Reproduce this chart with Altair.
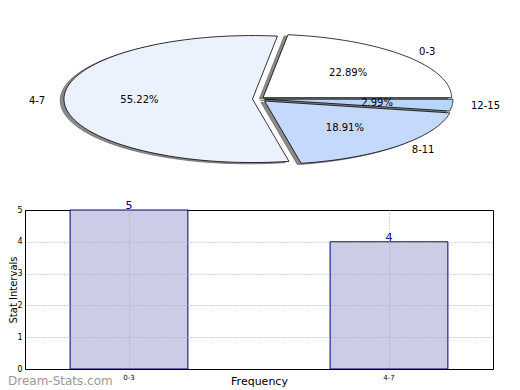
import altair as alt
import pandas as pd

# ---- data ----
pie_labels = ["0-3", "4-7", "8-11", "12-15"]
pie_values = [22.89, 55.22, 18.91, 2.99]
pie_explode = [0.032, 0.032, 0.046, 0.032]
pie_colors = ["#ffffff", "#ebf2fe", "#c5d9fd", "#b7d4fb"]

bar_categories = ["0-3", "4-7"]
bar_values = [5, 4]
y_ticks = [0, 1, 2, 3, 4, 5]

watermark = ["Dream-Stats.com"]

pie_df = pd.DataFrame({"label": pie_labels, "value": pie_values,
                       "idx": list(range(len(pie_labels))), "ex": pie_explode})
bar_df = pd.DataFrame({"cat": bar_categories, "val": bar_values})
wm_df = pd.DataFrame({"t": watermark})

N = 90
xs = alt.Scale(domain=[-1, 1], range=[45.0, 422.0], nice=False, zero=False)
ys = alt.Scale(domain=[-1, 1], range=[-47.5, -174.5], nice=False, zero=False)


def pie_base():
    return (
        alt.Chart(pie_df)
        .transform_window(cum="sum(value)", sort=[alt.SortField("idx", order="ascending")],
                          frame=[None, 0])
        .transform_joinaggregate(total="sum(value)")
        .transform_calculate(a0="2*PI*(datum.cum - datum.value)/datum.total",
                             a1="2*PI*datum.cum/datum.total")
        .transform_calculate(mid="(datum.a0 + datum.a1)/2")
        .transform_calculate(cx="datum.ex*cos(datum.mid)", cy="datum.ex*sin(datum.mid)")
    )


def wedge_layer(dx, dy, **mark):
    return (
        pie_base()
        .transform_calculate(steps=f"sequence(0, {N + 3})")
        .transform_flatten(["steps"])
        .transform_calculate(t=f"clamp((datum.steps - 1)/{N}, 0, 1)")
        .transform_calculate(ang="datum.a0 + datum.t*(datum.a1 - datum.a0)",
                             rim=f"datum.steps > 0 && datum.steps < {N + 2}")
        .transform_calculate(px=f"datum.cx + (datum.rim ? cos(datum.ang) : 0) + ({dx})",
                             py=f"datum.cy + (datum.rim ? sin(datum.ang) : 0) + ({dy})")
        .mark_line(**mark)
    )


shadow = wedge_layer(-0.02, -0.02, fill="#8a8a8a", stroke="#6e6e6e",
                     strokeWidth=0.8).encode(
    x=alt.X("px:Q", scale=xs, axis=None),
    y=alt.Y("py:Q", scale=ys, axis=None),
    order=alt.Order("steps:Q"),
    detail="label:N",
)

wedges = wedge_layer(0, 0, stroke="black", strokeWidth=0.8).encode(
    x=alt.X("px:Q", scale=xs, axis=None),
    y=alt.Y("py:Q", scale=ys, axis=None),
    order=alt.Order("steps:Q"),
    detail="label:N",
    fill=alt.Fill("label:N", scale=alt.Scale(domain=pie_labels, range=pie_colors),
                  legend=None),
)

lab = pie_base().transform_calculate(lx="datum.cx + 1.1*cos(datum.mid)",
                                     ly="datum.cy + 1.1*sin(datum.mid)")
lab_right = lab.transform_filter("cos(datum.mid) > 0").mark_text(
    align="left", baseline="middle", fontSize=10, color="black").encode(
    x=alt.X("lx:Q", scale=xs, axis=None), y=alt.Y("ly:Q", scale=ys, axis=None),
    text="label:N")
lab_left = lab.transform_filter("cos(datum.mid) <= 0").mark_text(
    align="right", baseline="middle", fontSize=10, color="black").encode(
    x=alt.X("lx:Q", scale=xs, axis=None), y=alt.Y("ly:Q", scale=ys, axis=None),
    text="label:N")

pct = pie_base().transform_calculate(
    tx="datum.cx + 0.6*cos(datum.mid)", ty="datum.cy + 0.6*sin(datum.mid)",
    ptxt="format(datum.value, '.2f') + '%'").mark_text(
    align="center", baseline="middle", fontSize=10, color="black").encode(
    x=alt.X("tx:Q", scale=xs, axis=None), y=alt.Y("ty:Q", scale=ys, axis=None),
    text="ptxt:N")

pie = alt.layer(shadow, wedges, lab_right, lab_left, pct)

# ---- bar chart ----
xband = alt.Scale(domain=bar_categories, paddingInner=0.547, paddingOuter=0.1735)
yscale = alt.Scale(domain=[0, 5], nice=False)

grid_kw = dict(grid=True, gridDash=[1, 2], gridColor="#a8a8a8", gridWidth=1,
               ticks=False, domain=True, domainColor="black", domainWidth=1,
               zindex=1, labelColor="black", titleColor="black",
               titleFontWeight="normal")

x_axis = alt.Axis(title="Frequency", labelAngle=0, labelFontSize=7,
                  labelPadding=4, bandPosition=0.5, titleFontSize=11,
                  titleBaseline="top", titleY=6, **grid_kw)
y_axis = alt.Axis(title="Stat Intervals", values=y_ticks, labelFontSize=8,
                  labelPadding=3, titleFontSize=10, titleAngle=-90,
                  titleX=-12, titleY=79.5, titleAlign="center",
                  titleBaseline="middle",
                  gridOpacity=alt.condition("datum.value >= 5 || datum.value <= 0",
                                            alt.value(0), alt.value(1)),
                  **grid_kw)

bars = alt.Chart(bar_df).mark_bar(fill="#ccccE6", stroke="#000080",
                                  strokeWidth=1).encode(
    x=alt.X("cat:N", scale=xband, sort=None, axis=x_axis),
    y=alt.Y("val:Q", scale=yscale, axis=y_axis),
)

bar_text = alt.Chart(bar_df).mark_text(baseline="bottom", fontSize=11,
                                       color="#000080", dy=1).encode(
    x=alt.X("cat:N", scale=xband, sort=None, axis=x_axis),
    y=alt.Y("val:Q", scale=yscale, axis=y_axis),
    text="val:Q",
)

wm = alt.Chart(wm_df).mark_text(align="left", baseline="middle", fontSize=12,
                                color="#9a9a9a").encode(
    text="t:N", x=alt.value(-17), y=alt.value(171))

bar_group = alt.layer(bars, bar_text, wm)

chart = (
    alt.layer(bar_group, pie)
    .resolve_scale(x="independent", y="independent", fill="independent")
    .properties(width=468, height=159, autosize="none",
                padding={"left": 17, "top": 202, "right": 10, "bottom": 21})
    .configure(font="DejaVu Sans")
    .configure_view(stroke="black", strokeWidth=1)
)

chart.save("out.html", embed_options={"renderer": "svg", "actions": False})
